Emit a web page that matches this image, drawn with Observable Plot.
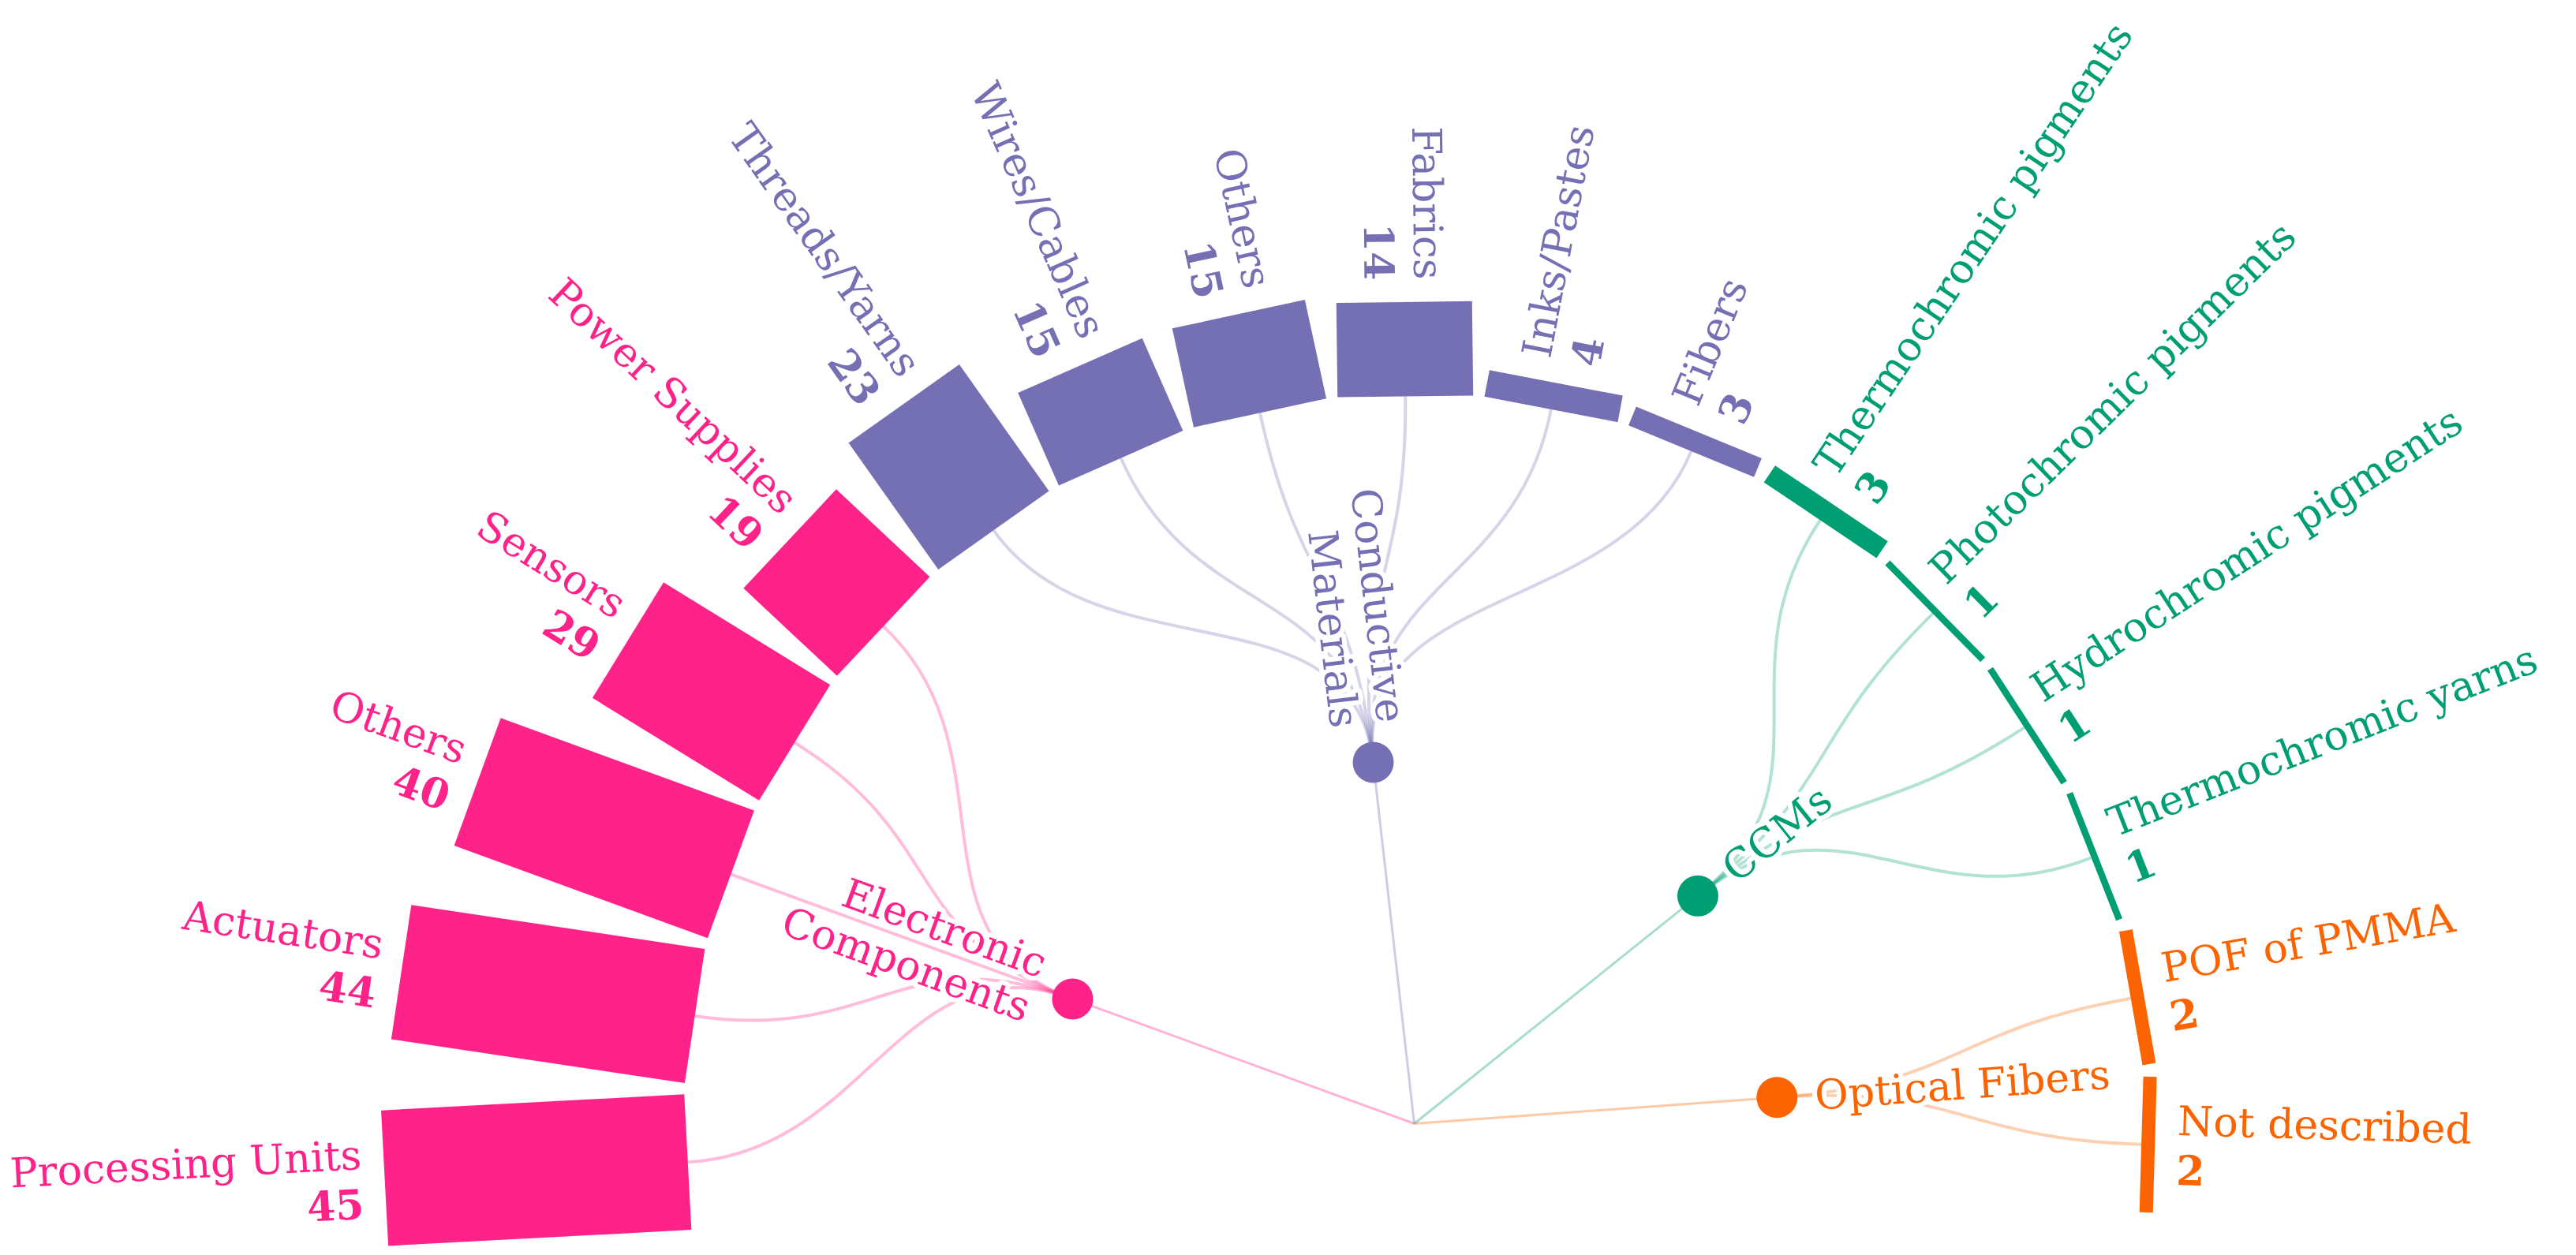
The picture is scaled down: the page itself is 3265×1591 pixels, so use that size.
<!DOCTYPE html>
<html>
<head>
<meta charset="utf-8">
<script src="https://cdn.jsdelivr.net/npm/d3@7"></script>
<script src="https://cdn.jsdelivr.net/npm/@observablehq/plot@0.6"></script>
<style>
  html, body { margin: 0; padding: 0; background: #fff; }
  #chart svg { display: block; }
</style>
</head>
<body>
<div id="chart"></div>
<script>
// ---------------- data ----------------
const groups = ["Electronic Components", "Conductive Materials", "CCMs", "Optical Fibers"];
const groupLabels = ["Electronic\nComponents", "Conductive\nMaterials", "CCMs", "Optical Fibers"];
const groupColors = ["#ff2389", "#7570b3", "#009e73", "#fb6400"];

const electronicNames = ["Processing Units", "Actuators", "Others", "Sensors", "Power Supplies"];
const electronicValues = [45, 44, 40, 29, 19];
const conductiveNames = ["Threads/Yarns", "Wires/Cables", "Others", "Fabrics", "Inks/Pastes", "Fibers"];
const conductiveValues = [23, 15, 15, 14, 4, 3];
const ccmNames = ["Thermochromic pigments", "Photochromic pigments", "Hydrochromic pigments", "Thermochromic yarns"];
const ccmValues = [3, 1, 1, 1];
const opticalNames = ["POF of PMMA", "Not described"];
const opticalValues = [2, 2];

const leafNames = [electronicNames, conductiveNames, ccmNames, opticalNames];
const leafValues = [electronicValues, conductiveValues, ccmValues, opticalValues];

// ---------------- layout ----------------
const W = 3265, H = 1591;
const rootX = 1792, rootY = 1424;     // pixel position of the root
const R = 922;                         // leaf radius
const unit = 8.55;                     // bar length per count
const barWidth = 172;
const spanDeg = 196.2, startDeg = -98.8;
const labelPad = 28, lineGap = 13;
const fontSize = 52;
const font = "DejaVu Serif";

const deg = Math.PI / 180;
const polar = (theta, r) => [r * Math.sin(theta * deg), r * Math.cos(theta * deg)];

const tree = {
  name: "root",
  children: groups.map((g, gi) => ({
    name: g, gi,
    children: leafNames[gi].map((n, j) => ({name: n, value: leafValues[gi][j], gi}))
  }))
};
const root = d3.hierarchy(tree);
d3.cluster().size([spanDeg, 1]).separation(() => 1)(root);

const groupNodes = root.children.map((node) => {
  const theta = node.x + startDeg;
  const r = node.y * R;
  const [x, y] = polar(theta, r);
  const [lx, ly] = polar(theta, r + 48);
  return {
    group: node.data.name, label: groupLabels[node.data.gi], theta, x, y, lx, ly,
    rot: theta < 0 ? theta + 90 : theta - 90
  };
});
const groupByName = new Map(groupNodes.map((d) => [d.group, d]));

const leafNodes = root.leaves().map((node) => {
  const theta = node.x + startDeg;
  const v = node.data.value;
  const parent = groupByName.get(node.parent.data.name);
  const [ix, iy] = polar(theta, R);
  const [ox, oy] = polar(theta, R + v * unit);
  const [ax, ay] = polar(theta, R + v * unit + labelPad);
  // clockwise tangent (data space, y up)
  const tx = Math.cos(theta * deg), ty = -Math.sin(theta * deg);
  const s = theta < 0 ? 1 : -1;   // side on which the name sits
  return {
    group: node.parent.data.name, name: node.data.name, value: String(v), theta,
    px: parent.x, py: parent.y, ix, iy, ox, oy,
    nx: ax + s * lineGap * tx, ny: ay + s * lineGap * ty,
    vx: ax - s * lineGap * tx, vy: ay - s * lineGap * ty,
    rot: theta < 0 ? theta + 90 : theta - 90
  };
});

// ---------------- scales ----------------
const xOpts = {domain: [-rootX, W - rootX], range: [0, W]};
const yOpts = {domain: [-(H - rootY), rootY], range: [H, 0]};
const cx = Plot.scale({x: xOpts}).apply(0);
const cy = Plot.scale({y: yOpts}).apply(0);

// radial bump curve (like d3.linkRadial) around the root's pixel position
function radialBump(context) {
  let p0 = null;
  return {
    areaStart() {}, areaEnd() {},
    lineStart() { p0 = null; },
    lineEnd() {},
    point(x, y) {
      x = +x; y = +y;
      if (!p0) { context.moveTo(x, y); p0 = [x, y]; return; }
      const a0 = Math.atan2(p0[1] - cy, p0[0] - cx), r0 = Math.hypot(p0[0] - cx, p0[1] - cy);
      const a1 = Math.atan2(y - cy, x - cx), r1 = Math.hypot(x - cx, y - cy);
      const rm = (r0 + r1) / 2;
      context.bezierCurveTo(
        cx + rm * Math.cos(a0), cy + rm * Math.sin(a0),
        cx + rm * Math.cos(a1), cy + rm * Math.sin(a1),
        x, y);
      p0 = [x, y];
    }
  };
}

const leftLeaves = leafNodes.filter((d) => d.theta < 0);
const rightLeaves = leafNodes.filter((d) => d.theta >= 0);
const leftGroups = groupNodes.filter((d) => d.theta < 0);
const rightGroups = groupNodes.filter((d) => d.theta >= 0);

const textBase = {fontFamily: font, fontSize, rotate: "rot"};

function groupText(data, anchor) {
  return [
    Plot.text(data, {...textBase, x: "lx", y: "ly", text: "label", textAnchor: anchor, lineAnchor: "middle",
      lineHeight: 1.15, fill: "white", stroke: "white", strokeWidth: 12, strokeLinejoin: "round"}),
    Plot.text(data, {...textBase, x: "lx", y: "ly", text: "label", textAnchor: anchor, lineAnchor: "middle",
      lineHeight: 1.15, fill: "group"})
  ];
}
function leafText(data, anchor) {
  return [
    Plot.text(data, {...textBase, x: "nx", y: "ny", text: "name", textAnchor: anchor, lineAnchor: "bottom", fill: "group"}),
    Plot.text(data, {...textBase, x: "vx", y: "vy", text: "value", textAnchor: anchor, lineAnchor: "top", fill: "group", fontWeight: "bold"})
  ];
}

const chart = Plot.plot({
  width: W, height: H,
  margin: 0,
  x: {...xOpts, axis: null},
  y: {...yOpts, axis: null},
  color: {domain: groups, range: groupColors},
  style: {fontFamily: font, background: "white"},
  marks: [
    Plot.link(groupNodes, {x1: () => 0, y1: () => 0, x2: "x", y2: "y", stroke: "group", strokeOpacity: 0.35, strokeWidth: 3}),
    Plot.link(leafNodes, {x1: "px", y1: "py", x2: "ix", y2: "iy", stroke: "group", strokeOpacity: 0.3, strokeWidth: 4, curve: radialBump}),
    Plot.link(leafNodes, {x1: "ix", y1: "iy", x2: "ox", y2: "oy", stroke: "group", strokeWidth: barWidth, strokeLinecap: "butt"}),
    ...groupText(leftGroups, "end"),
    ...groupText(rightGroups, "start"),
    Plot.dot(groupNodes, {x: "x", y: "y", r: 26, fill: "group"}),
    ...leafText(leftLeaves, "end"),
    ...leafText(rightLeaves, "start")
  ]
});
document.getElementById("chart").appendChild(chart);
</script>
</body>
</html>
